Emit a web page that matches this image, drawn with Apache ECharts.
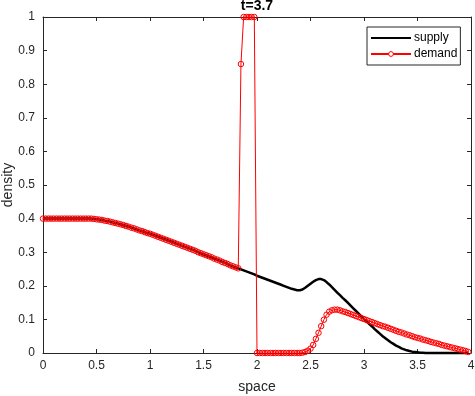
<!DOCTYPE html>
<html>
<head>
<meta charset="utf-8">
<script src="https://cdn.jsdelivr.net/npm/echarts@6/dist/echarts.min.js"></script>
<style>
  html, body { margin: 0; padding: 0; background: #fff; }
  #chart { width: 475px; height: 396px; }
</style>
</head>
<body>
<div id="chart"></div>
<script>
// sample positions along the space axis
const spaceX = [
  0, 0.025, 0.05, 0.075, 0.1, 0.125, 0.15, 0.175,
  0.2, 0.225, 0.25, 0.275, 0.3, 0.325, 0.35, 0.375,
  0.4, 0.425, 0.45, 0.475, 0.5, 0.525, 0.55, 0.575,
  0.6, 0.625, 0.65, 0.675, 0.7, 0.725, 0.75, 0.775,
  0.8, 0.825, 0.85, 0.875, 0.9, 0.925, 0.95, 0.975,
  1.0, 1.025, 1.05, 1.075, 1.1, 1.125, 1.15, 1.175,
  1.2, 1.225, 1.25, 1.275, 1.3, 1.325, 1.35, 1.375,
  1.4, 1.425, 1.45, 1.475, 1.5, 1.525, 1.55, 1.575,
  1.6, 1.625, 1.65, 1.675, 1.7, 1.725, 1.75, 1.775,
  1.8, 1.825, 1.85, 1.875, 1.9, 1.925, 1.95, 1.975,
  2.0, 2.025, 2.05, 2.075, 2.1, 2.125, 2.15, 2.175,
  2.2, 2.225, 2.25, 2.275, 2.3, 2.325, 2.35, 2.375,
  2.4, 2.425, 2.45, 2.475, 2.5, 2.525, 2.55, 2.575,
  2.6, 2.625, 2.65, 2.675, 2.7, 2.725, 2.75, 2.775,
  2.8, 2.825, 2.85, 2.875, 2.9, 2.925, 2.95, 2.975,
  3.0, 3.025, 3.05, 3.075, 3.1, 3.125, 3.15, 3.175,
  3.2, 3.225, 3.25, 3.275, 3.3, 3.325, 3.35, 3.375,
  3.4, 3.425, 3.45, 3.475, 3.5, 3.525, 3.55, 3.575,
  3.6, 3.625, 3.65, 3.675, 3.7, 3.725, 3.75, 3.775,
  3.8, 3.825, 3.85, 3.875, 3.9, 3.925, 3.95, 3.975
]

const supply = [
  0.400, 0.400, 0.400, 0.400, 0.400, 0.400, 0.400, 0.400,
  0.400, 0.400, 0.400, 0.400, 0.400, 0.400, 0.400, 0.400,
  0.400, 0.400, 0.400, 0.399, 0.398, 0.397, 0.396, 0.394,
  0.393, 0.391, 0.389, 0.387, 0.385, 0.383, 0.381, 0.378,
  0.376, 0.373, 0.371, 0.368, 0.365, 0.363, 0.360, 0.357,
  0.355, 0.352, 0.349, 0.346, 0.343, 0.340, 0.337, 0.334,
  0.331, 0.328, 0.325, 0.322, 0.319, 0.316, 0.313, 0.310,
  0.307, 0.304, 0.300, 0.297, 0.294, 0.291, 0.288, 0.285,
  0.281, 0.278, 0.275, 0.271, 0.268, 0.265, 0.261, 0.258,
  0.255, 0.252, 0.249, 0.246, 0.243, 0.240, 0.237, 0.234,
  0.230, 0.227, 0.224, 0.221, 0.218, 0.215, 0.212, 0.209,
  0.206, 0.203, 0.200, 0.197, 0.194, 0.191, 0.189, 0.187,
  0.187, 0.189, 0.194, 0.200, 0.206, 0.212, 0.217, 0.220,
  0.220, 0.217, 0.211, 0.204, 0.196, 0.188, 0.180, 0.172,
  0.164, 0.157, 0.149, 0.141, 0.133, 0.125, 0.117, 0.109,
  0.101, 0.094, 0.086, 0.079, 0.071, 0.064, 0.057, 0.050,
  0.044, 0.038, 0.032, 0.027, 0.022, 0.018, 0.014, 0.011,
  0.008, 0.006, 0.004, 0.003, 0.002, 0.001, 0.001, 0.000,
  0, 0, 0, 0, 0, 0, 0, 0,
  0, 0, 0, 0, 0, 0, 0, 0
]

const demand = [
  0.400, 0.400, 0.400, 0.400, 0.400, 0.400, 0.400, 0.400,
  0.400, 0.400, 0.400, 0.400, 0.400, 0.400, 0.400, 0.400,
  0.400, 0.400, 0.400, 0.399, 0.398, 0.397, 0.396, 0.394,
  0.393, 0.391, 0.389, 0.387, 0.385, 0.383, 0.381, 0.378,
  0.376, 0.373, 0.371, 0.368, 0.365, 0.363, 0.360, 0.357,
  0.355, 0.352, 0.349, 0.346, 0.343, 0.340, 0.337, 0.334,
  0.331, 0.328, 0.325, 0.322, 0.319, 0.316, 0.313, 0.310,
  0.307, 0.304, 0.300, 0.297, 0.294, 0.291, 0.288, 0.285,
  0.281, 0.278, 0.275, 0.271, 0.268, 0.265, 0.261, 0.258,
  0.255, 0.252, 0.86, 1, 1, 1, 1, 1,
  0, 0, 0, 0, 0, 0, 0, 0,
  0, 0, 0, 0, 0, 0, 0, 0,
  0, 0.001, 0.003, 0.007, 0.013, 0.024, 0.042, 0.060,
  0.080, 0.099, 0.114, 0.123, 0.127, 0.129, 0.129, 0.127,
  0.124, 0.122, 0.119, 0.116, 0.113, 0.110, 0.107, 0.104,
  0.101, 0.098, 0.095, 0.092, 0.089, 0.086, 0.083, 0.080,
  0.078, 0.075, 0.072, 0.069, 0.066, 0.063, 0.061, 0.058,
  0.055, 0.053, 0.050, 0.047, 0.045, 0.043, 0.040, 0.038,
  0.036, 0.033, 0.031, 0.029, 0.027, 0.024, 0.022, 0.020,
  0.018, 0.016, 0.014, 0.012, 0.010, 0.008, 0.006, 0.003
]

const titleText = 't=3.7'
const xName = 'space'
const yName = 'density'

const axisColor = '#262626'
const font = 'Liberation Sans, Arial, Helvetica, sans-serif'

function pairs(ys) {
  return spaceX.map((x, i) => [x, ys[i]])
}

// box axes (top / right) only draw the inward ticks
function boxAxis(pos, isX) {
  return {
    type: 'value',
    position: pos,
    min: 0,
    max: isX ? 4 : 1,
    interval: isX ? 0.5 : 0.1,
    axisLine: { show: true, onZero: false, lineStyle: { color: axisColor, width: 1 } },
    axisTick: { show: true, inside: true, length: 4, lineStyle: { color: axisColor } },
    axisLabel: { show: false },
    splitLine: { show: false }
  }
}

const chart = echarts.init(document.getElementById('chart'))

chart.setOption({
  animation: false,
  backgroundColor: '#fff',
  title: {
    text: titleText,
    left: 257,
    textAlign: 'center',
    top: -1,
    padding: 0,
    textStyle: { fontFamily: font, fontSize: 14, fontWeight: 'bold', color: '#000' }
  },
  grid: { left: 43, right: 4, top: 17, bottom: 43, containLabel: false, outerBoundsMode: 'none' },
  legend: {
    orient: 'vertical',
    left: 367,
    top: 27,
    padding: [5, 3],
    itemGap: 4,
    itemWidth: 40,
    itemHeight: 6,
    backgroundColor: '#fff',
    borderColor: axisColor,
    borderWidth: 1,
    borderRadius: 0,
    textStyle: { fontFamily: font, fontSize: 12, color: '#000', padding: [0, 0, 0, -2] },
    data: [
      // supply has no marker, so hide the legend's default circle
      { name: 'supply', itemStyle: { color: 'rgba(0,0,0,0)', borderWidth: 0 } },
      { name: 'demand', itemStyle: { color: '#fff', borderColor: '#ff0000', borderWidth: 1 } }
    ]
  },
  xAxis: [
    {
      type: 'value',
      min: 0,
      max: 4,
      interval: 0.5,
      name: xName,
      nameLocation: 'middle',
      nameGap: 27,
      nameMoveOverlap: false,
      nameTextStyle: { fontFamily: font, fontSize: 14, color: axisColor },
      axisLine: { show: true, onZero: false, lineStyle: { color: axisColor, width: 1 } },
      axisTick: { show: true, inside: true, length: 4, lineStyle: { color: axisColor } },
      axisLabel: { margin: 7, fontFamily: font, fontSize: 12, color: axisColor },
      splitLine: { show: false }
    },
    boxAxis('top', true)
  ],
  yAxis: [
    {
      type: 'value',
      min: 0,
      max: 1,
      interval: 0.1,
      name: yName,
      nameLocation: 'middle',
      nameGap: 28,
      nameMoveOverlap: false,
      nameTextStyle: { fontFamily: font, fontSize: 14, color: axisColor },
      axisLine: { show: true, onZero: false, lineStyle: { color: axisColor, width: 1 } },
      axisTick: { show: true, inside: true, length: 4, lineStyle: { color: axisColor } },
      axisLabel: { margin: 8, fontFamily: font, fontSize: 12, color: axisColor },
      splitLine: { show: false }
    },
    boxAxis('right', false)
  ],
  series: [
    {
      name: 'supply',
      type: 'line',
      data: pairs(supply),
      symbol: 'none',
      clip: false,
      lineStyle: { color: '#000', width: 2.5 },
      itemStyle: { color: '#000' }
    },
    {
      name: 'demand',
      type: 'line',
      data: pairs(demand),
      symbol: 'circle',
      symbolSize: 5.5,
      showSymbol: true,
      showAllSymbol: true,
      clip: false,
      lineStyle: { color: '#ff0000', width: 1 },
      itemStyle: { color: 'rgba(255,255,255,0)', borderColor: '#ff0000', borderWidth: 1 }
    }
  ]
})
</script>
</body>
</html>
